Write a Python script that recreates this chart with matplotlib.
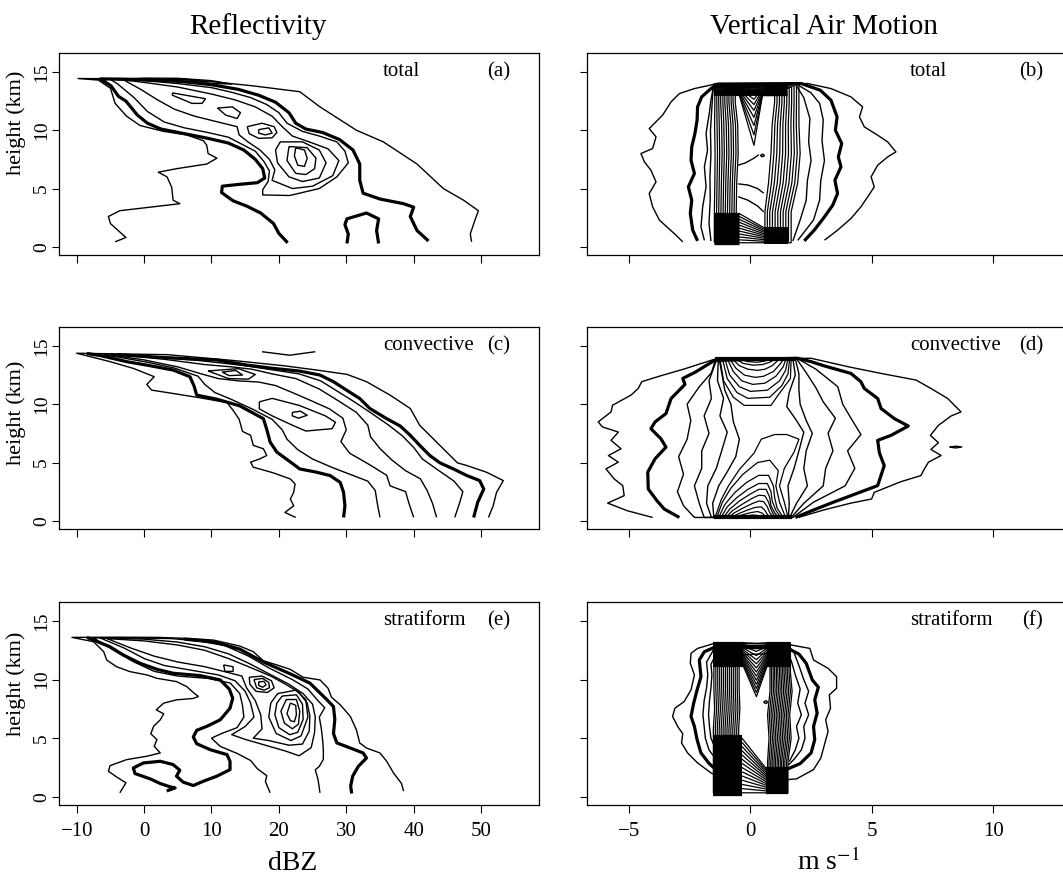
import numpy as np
import matplotlib.pyplot as plt

plt.rcParams['font.family'] = ['Liberation Serif', 'DejaVu Serif']
plt.rcParams['mathtext.fontset'] = 'stix'

# contour paths are (x, height km) pairs

# ---------- (a) reflectivity, total ----------
a_outer = [(-4.3, 0.43), (-2.7, 0.8), (-5.0, 2.0), (-5.3, 2.6), (-3.6, 3.1), (-0.6, 3.3), (5.3, 3.7),
           (4.3, 4.0), (4.1, 5.1), (3.4, 6.0), (2.1, 6.4), (4.8, 6.7), (9.3, 7.1), (10.8, 7.6), (9.5, 8.0),
           (9.3, 8.7), (8.8, 9.1), (6.3, 9.6), (2.9, 9.9), (-0.6, 10.4), (-2.6, 11.2), (-4.3, 12.3),
           (-5.0, 13.6), (-6.8, 14.3), (-9.8, 14.43), (0.1, 14.4), (6.3, 14.35), (10.3, 14.15),
           (16.2, 13.8), (23.1, 13.3), (26.1, 12.0), (31.5, 10.0), (35.5, 9.0), (40.5, 7.1), (44.4, 5.0),
           (47.4, 4.0), (49.6, 3.1), (49.1, 2.3), (48.4, 1.1), (48.6, 0.43)]
a_thick = [(21.3, 0.35), (20.0, 1.15), (19.2, 2.0), (17.3, 2.9), (15.2, 3.5), (13.2, 3.95), (11.5, 4.65),
           (11.6, 5.2), (14.0, 5.35), (16.8, 5.5), (17.9, 5.9), (17.6, 6.7), (16.5, 7.5), (14.8, 8.3),
           (12.5, 8.9), (9.5, 9.3), (6.0, 9.7), (2.5, 10.1), (0.5, 10.6), (-1.0, 11.3), (-2.7, 12.5),
           (-3.8, 12.9), (-4.9, 13.8), (-6.5, 14.4), (-3.0, 14.38), (2.0, 14.3), (6.0, 14.15),
           (10.0, 13.9), (14.0, 13.5), (17.0, 13.0), (19.5, 12.4), (21.5, 11.5), (22.5, 10.6), (24.0, 10.1),
           (26.5, 9.8), (29.0, 9.2), (31.0, 8.3), (32.0, 7.1), (32.0, 5.7), (32.5, 4.6), (35.0, 4.1),
           (38.5, 3.7), (40.0, 3.4), (39.5, 2.6), (40.5, 1.4), (42.2, 0.5)]
a_arch = [(30.1, 0.29), (30.3, 1.1), (29.8, 1.9), (30.1, 2.4), (33.0, 2.9), (34.8, 2.4), (34.5, 1.4),
          (34.8, 0.29)]
a_band1 = [(-5.0, 14.35), (-4.0, 14.0), (-1.5, 12.8), (0.5, 11.6), (3.0, 10.7), (6.0, 10.2), (9.5, 9.8),
           (12.5, 9.4), (14.5, 8.8), (16.5, 8.2), (17.8, 7.3), (18.6, 6.5), (18.4, 5.6), (17.6, 4.9),
           (17.6, 4.45), (21.6, 4.4), (26.0, 5.0), (28.6, 6.0), (30.3, 7.2), (29.8, 8.2), (28.6, 9.0),
           (26.0, 9.5), (23.5, 9.9), (21.2, 10.6), (20.0, 11.5), (18.2, 12.2), (15.8, 12.8), (13.0, 13.25),
           (10.0, 13.65), (5.0, 14.0), (0.0, 14.25), (-5.0, 14.35)]
a_band2 = [(-3.0, 14.3), (-0.5, 13.5), (2.0, 12.6), (4.5, 11.8), (7.5, 11.2), (11.0, 10.7), (13.8, 10.3),
           (14.1, 9.6), (15.4, 9.0), (17.2, 8.3), (18.6, 7.5), (19.4, 6.6), (19.0, 5.7), (22.0, 5.0),
           (25.0, 5.2), (28.0, 6.1), (28.9, 7.4), (27.3, 8.4), (24.5, 9.0), (22.0, 9.5), (20.5, 10.3),
           (19.0, 11.2), (16.5, 12.0), (13.5, 12.6), (10.0, 13.1), (5.0, 13.7), (0.0, 14.1), (-3.0, 14.3)]
a_ring3 = [(20.2, 9.0), (23.5, 9.0), (26.0, 8.3), (27.0, 7.2), (26.0, 5.9), (23.5, 5.6), (21.5, 6.0),
           (19.8, 7.2), (19.5, 8.3), (20.2, 9.0)]
a_ring2 = [(21.5, 8.6), (24.2, 8.5), (25.5, 7.6), (25.3, 6.7), (24.0, 6.2), (22.5, 6.3), (21.2, 7.4),
           (21.5, 8.6)]
a_ring1 = [(22.5, 8.5), (23.8, 8.3), (24.2, 7.6), (23.8, 6.9), (22.8, 7.0), (22.3, 7.8), (22.5, 8.5)]
a_peak2 = [(15.3, 10.3), (17.5, 10.6), (19.3, 10.3), (19.7, 9.8), (19.0, 9.35), (17.0, 9.3), (15.6, 9.7),
           (15.3, 10.3)]
a_peak1 = [(17.0, 10.05), (18.5, 10.2), (19.0, 9.75), (18.0, 9.6), (17.0, 9.75), (17.0, 10.05)]
a_small = [(10.9, 11.9), (13.1, 12.0), (14.3, 11.5), (13.8, 11.0), (12.1, 11.3), (10.9, 11.9)]
a_long = [(4.2, 13.2), (9.1, 12.7), (8.6, 12.3), (7.1, 12.3), (4.2, 13.0), (4.2, 13.2)]
a_top1 = [(-4.0, 14.35), (0.0, 14.47), (5.0, 14.45), (10.0, 14.25), (13.0, 13.95), (9.0, 14.05),
          (4.0, 14.2), (-1.0, 14.28), (-4.0, 14.35)]
a_top2 = [(2.0, 14.3), (6.0, 14.38), (9.5, 14.15), (6.0, 14.22), (2.0, 14.3)]

# ---------- (c) reflectivity, convective ----------
c_outer = [(22.5, 0.29), (20.9, 0.72), (22.2, 1.29), (21.7, 1.87), (22.2, 2.44), (22.4, 3.16), (21.7, 3.59),
           (19.2, 4.11), (16.2, 4.6), (15.8, 5.03), (17.2, 5.32), (18.2, 5.6), (17.7, 6.18), (16.2, 6.47),
           (15.8, 7.33), (14.6, 7.67), (14.1, 8.71), (13.2, 9.48), (12.3, 10.14), (8.3, 10.55), (4.3, 10.92),
           (1.1, 11.21), (0.4, 11.7), (1.5, 12.36), (-1.6, 13.07), (-5.05, 13.65), (-10.0, 14.37),
           (3.4, 14.25), (13.2, 13.75), (20.7, 13.3), (25.6, 12.93), (30.1, 12.56), (33.0, 11.93),
           (36.5, 10.78), (39.5, 9.63), (40.9, 8.19), (42.9, 7.04), (44.9, 5.89), (46.5, 4.97),
           (47.9, 4.74), (50.8, 4.17), (53.3, 3.45), (52.3, 2.44), (51.8, 1.29), (51.1, 0.29)]
c_thick_l = [(29.6, 0.29), (29.8, 1.29), (29.6, 2.44), (29.1, 3.3), (27.6, 3.88), (25.6, 4.17), (23.1, 4.45),
             (21.2, 5.26), (19.7, 5.89), (18.7, 6.75), (18.2, 7.84), (17.7, 8.76), (14.2, 9.86),
             (10.8, 10.43), (7.8, 10.78), (7.4, 11.58), (6.8, 12.36), (4.3, 12.93), (0.9, 13.3),
             (-2.6, 13.65), (-6.5, 14.17), (-8.5, 14.35)]
c_thick_r = [(-4.0, 14.25), (3.0, 14.0), (10.8, 13.79), (15.2, 13.36), (19.2, 13.07), (23.1, 12.84),
             (26.1, 12.5), (28.1, 11.93), (30.6, 11.0), (32.0, 10.49), (33.5, 9.63), (36.0, 8.76),
             (38.0, 8.13), (39.5, 7.33), (40.9, 6.47), (42.4, 5.6), (43.9, 4.97), (45.9, 4.45),
             (47.9, 3.88), (49.8, 3.45), (50.4, 2.73), (49.5, 1.58), (48.9, 0.29)]
c_line1 = [(35.0, 0.3), (34.6, 1.5), (34.3, 2.6), (33.2, 3.4), (30.5, 4.0), (27.8, 4.6), (25.0, 5.3),
           (22.8, 6.1), (21.2, 7.0), (20.5, 7.8), (19.0, 8.7), (16.0, 9.6), (13.0, 10.4), (10.5, 11.0),
           (9.0, 11.7), (8.0, 12.4), (4.5, 13.1), (0.5, 13.6), (-4.5, 14.1), (-8.0, 14.3)]
c_line2 = [(40.0, 0.3), (39.3, 1.5), (38.8, 2.5), (36.5, 3.0), (36.0, 3.9), (33.5, 4.8), (30.5, 5.8),
           (29.2, 6.8), (30.0, 7.8), (29.5, 8.8), (27.5, 9.6), (24.8, 10.3), (22.0, 11.0), (19.5, 11.6),
           (17.0, 11.9), (14.0, 12.0), (11.0, 12.2), (8.5, 12.6), (5.0, 13.2), (0.0, 13.8), (-6.0, 14.3)]
c_line3 = [(43.4, 0.3), (42.8, 1.5), (42.0, 2.6), (41.0, 3.6), (38.8, 4.3), (36.8, 5.2), (35.0, 6.2),
           (33.6, 7.2), (33.2, 8.2), (31.5, 9.3), (28.8, 10.3), (26.0, 11.3), (22.5, 12.2), (19.0, 12.6),
           (16.0, 13.0), (13.0, 13.2), (9.0, 13.4), (3.0, 13.85), (-5.0, 14.3)]
c_line4 = [(46.1, 0.3), (46.8, 1.5), (47.3, 2.5), (46.0, 3.4), (44.0, 4.2), (41.3, 5.3), (40.0, 6.3),
           (38.3, 7.3), (36.3, 8.2), (33.8, 9.2), (31.2, 10.2), (29.0, 11.0), (26.2, 12.0), (23.0, 12.6),
           (19.0, 12.95), (15.0, 13.3), (12.0, 13.5), (8.0, 13.75), (0.0, 14.1)]
c_ring_big = [(17.1, 10.2), (19.0, 10.5), (23.0, 9.9), (26.9, 9.0), (28.4, 8.45), (27.9, 7.9), (24.0, 7.7),
              (22.0, 8.2), (19.0, 9.0), (17.1, 9.6), (17.1, 10.2)]
c_ring_small = [(22.0, 9.3), (23.2, 9.4), (24.2, 9.05), (22.9, 8.8), (22.0, 9.0), (22.0, 9.3)]
c_top_big = [(9.5, 12.85), (14.0, 13.05), (16.5, 12.55), (15.5, 12.15), (12.5, 12.2), (9.5, 12.85)]
c_top_small = [(11.6, 12.75), (13.6, 12.9), (14.6, 12.5), (12.6, 12.45), (11.6, 12.75)]
c_arc = [(17.5, 14.5), (21.6, 14.2), (25.4, 14.5)]

# ---------- (e) reflectivity, stratiform ----------
e_outer = [(-3.6, 0.34), (-2.7, 1.19), (-4.1, 1.7), (-5.3, 2.18), (-5.05, 2.66), (-2.6, 3.17), (0.4, 3.46),
           (2.4, 3.74), (1.5, 4.31), (1.9, 4.87), (1.0, 5.38), (1.4, 6.01), (2.4, 6.57), (2.9, 7.08),
           (1.8, 7.42), (2.9, 7.99), (4.8, 8.27), (7.3, 8.39), (8.05, 8.56), (7.3, 8.9), (6.3, 9.41),
           (4.8, 9.83), (1.9, 10.11), (0.4, 10.4), (-2.1, 10.68), (-4.1, 11.1), (-5.55, 11.67),
           (-6.0, 12.38), (-7.5, 13.23), (-10.7, 13.6), (-4.0, 13.62), (2.0, 13.6), (6.8, 13.51),
           (10.3, 13.37), (14.2, 12.86), (16.2, 12.38), (17.7, 11.61), (19.7, 11.25), (21.65, 10.88),
           (23.6, 10.2), (26.1, 9.97), (27.3, 9.26), (27.8, 8.5), (29.1, 7.85), (30.6, 6.86), (31.5, 5.72),
           (32.0, 4.59), (33.0, 4.16), (35.0, 3.74), (36.0, 3.03), (37.0, 2.04), (38.2, 1.13), (38.5, 0.48)]
e_thick_l = [(-8.5, 13.6), (-5.05, 12.8), (-3.1, 12.1), (-0.6, 11.39), (1.9, 10.88), (4.3, 10.54),
             (8.3, 10.34), (11.3, 9.97), (12.65, 9.18), (13.15, 8.41), (12.75, 7.56), (11.3, 6.57),
             (9.3, 6.01), (7.8, 5.67), (7.3, 5.1), (7.8, 4.53), (9.8, 4.02), (12.3, 3.6), (12.75, 3.03),
             (12.75, 2.32), (10.8, 1.76), (8.8, 1.33), (7.3, 0.96), (5.8, 1.25), (4.8, 1.76), (5.3, 2.27),
             (4.3, 2.75), (2.4, 3.03), (-0.1, 2.89), (-1.6, 2.46), (-1.35, 1.98), (0.9, 1.53), (2.4, 1.13),
             (3.85, 0.85), (4.6, 0.76), (3.35, 0.5)]
e_thick_r = [(6.0, 13.45), (10.5, 13.2), (14.2, 12.6), (17.7, 11.5), (21.65, 10.5), (24.6, 9.7),
             (27.1, 8.3), (28.1, 7.7), (28.3, 6.6), (28.1, 5.4), (28.6, 4.6), (30.6, 4.16), (32.5, 3.74),
             (33.0, 3.31), (31.8, 2.61), (30.95, 1.76), (30.65, 0.91), (30.8, 0.28)]
e_big = [(18.7, 0.34), (18.0, 1.3), (18.2, 1.8), (16.8, 2.4), (15.8, 3.1), (13.8, 3.7), (11.3, 4.3),
         (10.0, 5.0), (11.5, 5.4), (13.8, 5.9), (14.8, 6.8), (14.6, 7.8), (14.2, 8.8), (12.8, 9.7),
         (9.5, 10.1), (5.0, 10.3), (1.5, 10.7), (-1.5, 11.5), (-4.5, 12.5), (-7.5, 13.55), (-2.0, 13.55),
         (4.0, 13.5), (8.0, 13.3), (12.0, 12.9), (15.5, 12.0), (18.5, 11.0), (22.0, 10.0), (24.3, 9.2),
         (25.8, 8.2), (26.8, 7.6), (26.0, 6.8), (26.3, 5.8), (26.5, 4.8), (26.6, 4.0), (26.6, 3.2),
         (26.0, 2.6), (25.4, 2.3), (25.8, 1.5), (26.1, 0.34)]
e_band2 = [(-6.5, 13.55), (-3.0, 12.7), (0.0, 11.8), (3.0, 11.2), (7.0, 10.8), (11.0, 10.4), (13.5, 9.9),
           (15.0, 9.0), (15.8, 8.0), (16.3, 6.8), (15.0, 6.0), (13.0, 5.3), (15.0, 4.9), (18.0, 4.4),
           (21.0, 3.9), (23.0, 3.5), (24.8, 4.2), (25.3, 5.5), (25.4, 6.8), (25.0, 7.9), (23.6, 8.8),
           (21.5, 9.6), (18.5, 10.5), (15.5, 11.4), (12.5, 12.2), (9.0, 12.8), (5.0, 13.2), (0.0, 13.45),
           (-6.5, 13.55)]
e_band3 = [(-5.5, 13.5), (-2.0, 12.7), (1.5, 12.0), (5.0, 11.5), (9.0, 11.1), (12.5, 10.6), (14.5, 10.3),
           (15.2, 9.3), (16.5, 8.2), (17.3, 7.0), (17.5, 5.8), (16.2, 5.0), (18.5, 4.8), (21.5, 4.4),
           (23.5, 4.5), (24.5, 5.6), (24.6, 6.9), (24.2, 8.0), (23.0, 8.9), (21.0, 9.6), (18.8, 10.3),
           (15.5, 11.1), (12.5, 11.8), (9.0, 12.5), (5.0, 12.95), (0.0, 13.3), (-5.5, 13.5)]
e_r4 = [(19.8, 8.8), (22.5, 9.1), (24.0, 8.3), (24.3, 6.8), (23.3, 5.2), (21.8, 4.8), (19.6, 5.4), (18.5, 6.8),
        (18.8, 8.0), (19.8, 8.8)]
e_r3 = [(20.5, 8.6), (22.6, 8.7), (23.5, 7.9), (23.6, 6.6), (22.8, 5.5), (21.6, 5.3), (20.0, 5.9), (19.4, 7.0),
        (19.7, 8.0), (20.5, 8.6)]
e_r2 = [(21.1, 8.3), (22.6, 8.3), (23.1, 7.3), (22.9, 6.2), (22.0, 5.8), (20.8, 6.3), (20.3, 7.3), (21.1, 8.3)]
e_r1 = [(21.7, 8.0), (22.5, 7.8), (22.6, 7.0), (22.3, 6.4), (21.7, 6.5), (21.2, 7.1), (21.7, 8.0)]
e_s3 = [(15.6, 10.2), (17.5, 10.3), (18.9, 9.9), (19.3, 9.3), (18.3, 8.9), (16.6, 9.0), (15.7, 9.6), (15.6, 10.2)]
e_s2 = [(16.3, 10.0), (17.6, 10.1), (18.5, 9.75), (18.6, 9.3), (17.8, 9.1), (16.7, 9.3), (16.3, 10.0)]
e_s1 = [(17.0, 9.8), (17.8, 9.85), (18.1, 9.55), (17.6, 9.35), (17.0, 9.5), (17.0, 9.8)]
e_small = [(11.8, 11.25), (13.2, 11.1), (13.2, 10.7), (12.0, 10.7), (11.8, 11.25)]

# ---------- (b) vertical air motion, total ----------
b_outer = [(-2.78, 0.43), (-3.13, 1.14), (-3.74, 2.29), (-4.02, 3.43), (-4.16, 4.57), (-3.88, 5.57),
           (-4.09, 6.57), (-4.36, 7.29), (-4.5, 8.0), (-4.02, 8.43), (-3.88, 9.43), (-4.16, 10.14),
           (-3.61, 11.29), (-3.26, 12.43), (-2.92, 13.14), (-2.3, 13.57), (-1.48, 13.94), (2.36, 14.0),
           (3.32, 13.57), (4.14, 12.86), (4.62, 12.0), (4.49, 11.14), (4.69, 10.29), (5.24, 9.57),
           (5.65, 9.0), (5.99, 8.14), (5.65, 7.71), (5.24, 7.0), (4.97, 6.0), (5.1, 5.14), (4.83, 4.29),
           (4.55, 3.43), (4.14, 2.43), (3.59, 1.43), (3.05, 0.57)]
b_thick = [(-2.17, 0.51), (-2.37, 1.43), (-2.47, 2.86), (-2.41, 4.0), (-2.55, 5.14), (-2.3, 6.29),
           (-2.44, 7.43), (-2.41, 8.57), (-2.28, 9.71), (-2.19, 10.86), (-2.17, 12.0), (-2.0, 12.86),
           (-1.62, 13.57), (-1.34, 13.96), (2.09, 14.0), (2.88, 13.43), (3.32, 12.57), (3.57, 11.14),
           (3.5, 10.0), (3.76, 8.86), (3.62, 7.71), (3.73, 6.86), (3.48, 5.71), (3.59, 4.57), (3.39, 3.57),
           (3.05, 2.57), (2.63, 1.43), (2.22, 0.51)]
b_thin1 = [(-1.89, 0.55), (-2.03, 1.71), (-1.96, 3.43), (-1.82, 5.14), (-1.89, 6.86), (-1.76, 8.29),
           (-1.82, 9.71), (-1.69, 11.43), (-1.62, 12.57), (-1.5, 13.95), (1.9, 13.95), (2.5, 13.2),
           (2.85, 12.3), (3.0, 10.9), (2.95, 9.1), (3.05, 7.4), (2.9, 5.7), (2.85, 4.0), (2.6, 2.3),
           (1.95, 0.55)]
b_thin2 = [(-1.62, 0.5), (-1.7, 2.0), (-1.65, 4.0), (-1.66, 6.0), (-1.62, 8.0), (-1.64, 10.0), (-1.58, 12.0),
           (-1.52, 13.9), (1.85, 13.95), (2.2, 12.8), (2.45, 11.0), (2.4, 9.0), (2.5, 7.4), (2.35, 5.7),
           (2.3, 4.0), (2.05, 2.3), (1.75, 0.5)]
b_heights = [3.0, 5.5, 8.0, 10.5, 12.4]
b_left = [[-1.48, -1.46, -1.45, -1.47, -1.46], [-1.39, -1.37, -1.35, -1.37, -1.38],
          [-1.30, -1.28, -1.26, -1.28, -1.30], [-1.21, -1.19, -1.16, -1.18, -1.22],
          [-1.12, -1.10, -1.07, -1.09, -1.13], [-1.03, -1.01, -0.97, -0.99, -1.05],
          [-0.94, -0.92, -0.88, -0.90, -0.96], [-0.85, -0.83, -0.78, -0.80, -0.88],
          [-0.76, -0.74, -0.69, -0.71, -0.79], [-0.67, -0.65, -0.59, -0.61, -0.71],
          [-0.58, -0.56, -0.50, -0.52, -0.62]]
b_right = [[1.68, 1.95, 2.05, 2.00, 2.00], [1.57, 1.83, 1.93, 1.89, 1.90], [1.46, 1.71, 1.81, 1.78, 1.80],
           [1.35, 1.59, 1.69, 1.67, 1.70], [1.24, 1.47, 1.57, 1.56, 1.60], [1.13, 1.35, 1.45, 1.45, 1.50],
           [1.02, 1.23, 1.33, 1.34, 1.40], [0.91, 1.11, 1.21, 1.23, 1.30], [0.80, 0.99, 1.09, 1.12, 1.20],
           [0.70, 0.87, 0.97, 1.01, 1.10], [0.60, 0.75, 0.85, 0.90, 1.00]]
b_top = [13.98, 13.88, 13.78, 13.68, 13.58, 13.48, 13.38, 13.28, 13.18, 13.08, 12.98]
b_vdip = [13.95, 13.7, 13.4, 13.05, 12.65, 12.2, 11.7, 11.1, 10.4, 9.6, 8.7]
b_bot_l = [0.35, 0.6, 0.85, 1.1, 1.35, 1.6, 1.85, 2.1, 2.35, 2.6, 2.85]
b_bot_r = [0.35, 0.48, 0.61, 0.74, 0.87, 1.0, 1.13, 1.26, 1.39, 1.52, 1.65]
b_mid = [[(-0.5, 7.0), (-0.2, 7.2), (0.15, 7.6), (0.35, 7.9)],
         [(-0.5, 5.4), (-0.1, 5.3), (0.3, 5.0), (0.55, 4.6)],
         [(-0.5, 4.3), (-0.1, 4.0), (0.3, 3.5), (0.55, 3.0)]]
b_dot = [(0.42, 7.85), (0.52, 7.95), (0.58, 7.8), (0.47, 7.72), (0.42, 7.85)]

# ---------- (d) vertical air motion, convective ----------
d_outer = [(-4.02, 0.29), (-5.05, 0.86), (-5.87, 1.52), (-5.19, 2.16), (-5.25, 3.02), (-5.6, 3.59),
           (-5.94, 4.45), (-5.43, 5.03), (-5.84, 5.6), (-5.32, 6.18), (-5.73, 6.9), (-5.43, 7.61),
           (-6.08, 8.05), (-6.26, 8.48), (-5.73, 9.34), (-5.67, 9.91), (-4.91, 10.78), (-4.61, 11.35),
           (-4.47, 11.93), (-3.68, 12.44), (-2.72, 13.02), (-1.48, 13.85), (2.5, 13.94), (4.01, 13.22),
           (5.38, 12.64), (6.82, 12.07), (7.43, 11.35), (8.12, 10.49), (8.67, 9.34), (8.26, 8.99),
           (7.74, 8.19), (7.41, 7.33), (7.74, 6.7), (7.43, 6.12), (7.85, 5.6), (7.33, 5.03), (7.16, 4.45),
           (7.02, 3.88), (6.2, 3.36), (5.79, 3.02), (5.1, 2.44), (4.99, 1.87), (4.14, 1.52), (3.05, 0.95),
           (1.98, 0.29)]
d_thick = [(-2.92, 0.29), (-3.54, 1.01), (-3.84, 1.72), (-4.2, 2.73), (-4.22, 4.17), (-3.92, 5.32),
           (-3.47, 6.32), (-3.68, 7.04), (-4.09, 7.9), (-3.92, 8.48), (-3.47, 9.2), (-3.26, 10.49),
           (-2.99, 11.06), (-2.69, 11.7), (-2.78, 12.21), (-2.28, 12.73), (-1.48, 13.75), (1.95, 13.94),
           (2.5, 13.65), (3.05, 13.28), (4.14, 12.64), (4.55, 11.93), (4.69, 11.35), (5.24, 10.49),
           (5.38, 9.63), (5.93, 8.76), (6.5, 8.13), (5.79, 7.33), (5.24, 6.9), (5.31, 5.83), (5.51, 4.74),
           (5.24, 3.02), (4.14, 2.16), (3.32, 1.52), (2.63, 0.95), (1.85, 0.29)]
d_span = [
    [(-2.3, 0.29), (-2.75, 1.3), (-3.0, 2.5), (-2.75, 4.0), (-2.95, 5.5), (-2.6, 7.0), (-2.45, 8.6), (-2.6, 10.0),
     (-2.1, 11.5), (-1.6, 12.7), (-1.42, 13.88), (1.95, 13.9), (2.7, 13.0), (3.6, 11.5), (3.8, 10.0),
     (4.2, 8.6), (4.55, 7.4), (4.0, 6.0), (4.3, 4.5), (3.9, 3.0), (2.6, 1.6), (1.75, 0.29)],
    [(-1.9, 0.29), (-2.1, 1.5), (-2.3, 3.0), (-2.0, 4.5), (-2.0, 6.0), (-1.7, 7.5), (-1.9, 9.0), (-1.6, 10.5),
     (-1.7, 12.0), (-1.38, 13.88), (1.9, 13.9), (2.3, 12.7), (2.7, 11.4), (3.0, 10.2), (3.5, 8.8), (3.2, 7.5),
     (3.4, 6.0), (3.1, 4.5), (3.0, 3.0), (2.2, 1.5), (1.68, 0.29)],
    [(-1.6, 0.29), (-1.8, 1.5), (-1.75, 3.0), (-1.4, 4.5), (-1.15, 6.2), (-0.95, 7.6), (-1.25, 9.0),
     (-1.1, 10.5), (-1.35, 12.0), (-1.32, 13.88), (1.85, 13.9), (2.0, 12.6), (2.0, 11.2), (2.05, 10.0),
     (2.3, 8.6), (2.55, 7.5), (2.3, 6.0), (2.2, 4.5), (2.35, 3.0), (1.9, 1.5), (1.62, 0.29)],
    [(-1.5, 0.29), (-1.55, 1.5), (-1.3, 3.0), (-0.95, 4.2), (-0.6, 5.5), (-0.45, 7.0), (-0.7, 8.5),
     (-0.8, 10.0), (-1.05, 11.2), (-1.28, 13.88), (1.75, 13.9), (1.85, 12.5), (1.6, 11.0), (1.5, 9.8),
     (1.9, 8.6), (2.2, 7.6), (2.0, 6.0), (1.8, 4.5), (1.55, 3.0), (1.6, 1.5), (1.57, 0.29)],
]
d_caps = [
    [(-1.25, 13.9), (-1.1, 12.0), (-0.7, 10.6), (-0.25, 9.9), (0.85, 9.9), (1.15, 10.8), (1.65, 12.2), (1.68, 13.9)],
    [(-1.15, 13.9), (-0.95, 12.2), (-0.55, 11.0), (-0.1, 10.5), (0.8, 10.6), (1.3, 11.6), (1.55, 12.6), (1.62, 13.9)],
    [(-1.05, 13.9), (-0.85, 12.5), (-0.45, 11.5), (0.0, 11.1), (0.7, 11.2), (1.2, 12.0), (1.45, 12.9), (1.55, 13.9)],
    [(-0.95, 13.9), (-0.7, 12.8), (-0.35, 12.0), (0.1, 11.7), (0.6, 11.8), (1.05, 12.4), (1.35, 13.2), (1.47, 13.9)],
    [(-0.85, 13.9), (-0.6, 13.1), (-0.25, 12.5), (0.2, 12.3), (0.55, 12.4), (0.95, 12.8), (1.25, 13.5), (1.38, 13.9)],
    [(-0.75, 13.9), (-0.45, 13.3), (-0.1, 13.0), (0.3, 12.9), (0.6, 13.0), (0.9, 13.3), (1.1, 13.7), (1.25, 13.9)],
    [(-0.6, 13.9), (-0.3, 13.5), (0.1, 13.35), (0.5, 13.4), (0.8, 13.6), (1.05, 13.9)],
    [(-0.45, 13.9), (-0.1, 13.65), (0.3, 13.6), (0.6, 13.7), (0.85, 13.9)],
]
d_mounds = [
    [(-1.45, 0.3), (-1.2, 1.8), (-0.9, 3.0), (-0.45, 4.4), (0.15, 5.8), (0.45, 7.0), (1.0, 7.4), (1.5, 7.4),
     (2.0, 7.0), (1.8, 5.9), (1.4, 4.5), (1.2, 3.0), (1.4, 1.6), (1.55, 0.3)],
    [(-1.38, 0.3), (-1.15, 1.6), (-0.8, 2.8), (-0.3, 4.0), (0.3, 5.0), (0.8, 5.2), (1.15, 4.3), (1.05, 3.0),
     (1.2, 1.6), (1.45, 0.3)],
    [(-1.3, 0.3), (-1.05, 1.4), (-0.65, 2.4), (-0.15, 3.3), (0.35, 3.9), (0.75, 3.9), (0.95, 3.0), (1.0, 2.0),
     (1.1, 1.1), (1.35, 0.3)],
    [(-1.2, 0.3), (-0.95, 1.2), (-0.55, 2.0), (-0.1, 2.7), (0.35, 3.2), (0.7, 3.2), (0.85, 2.5), (0.9, 1.7),
     (1.05, 0.9), (1.25, 0.3)],
    [(-1.1, 0.3), (-0.85, 1.0), (-0.45, 1.7), (0.0, 2.3), (0.35, 2.7), (0.65, 2.7), (0.8, 2.0), (0.85, 1.3),
     (1.0, 0.7), (1.15, 0.3)],
    [(-1.0, 0.3), (-0.75, 0.85), (-0.35, 1.4), (0.05, 1.9), (0.35, 2.2), (0.6, 2.15), (0.75, 1.6), (0.85, 1.0),
     (0.95, 0.55), (1.05, 0.3)],
    [(-0.9, 0.3), (-0.65, 0.7), (-0.25, 1.15), (0.1, 1.5), (0.35, 1.7), (0.55, 1.65), (0.7, 1.2), (0.8, 0.7),
     (0.95, 0.3)],
    [(-0.78, 0.3), (-0.5, 0.6), (-0.15, 0.9), (0.2, 1.15), (0.45, 1.2), (0.6, 0.9), (0.7, 0.55), (0.82, 0.3)],
    [(-0.62, 0.3), (-0.35, 0.5), (0.0, 0.7), (0.3, 0.8), (0.5, 0.65), (0.65, 0.3)],
    [(-0.45, 0.3), (-0.2, 0.42), (0.1, 0.5), (0.35, 0.45), (0.48, 0.3)],
]
d_top_run = [(-1.45, 13.9), (1.9, 13.9)]
d_bot_run = [(-1.5, 0.32), (1.7, 0.32)]
d_blob = [(8.2, 6.32), (8.45, 6.4), (8.7, 6.33), (8.45, 6.25), (8.2, 6.32)]

# ---------- (f) vertical air motion, stratiform ----------
f_outer = [(-1.34, 1.76), (-1.62, 2.04), (-2.17, 2.89), (-2.58, 3.74), (-2.83, 4.59), (-2.78, 5.38),
           (-2.99, 6.0), (-3.2, 6.86), (-3.1, 7.56), (-2.72, 8.13), (-2.44, 9.12), (-2.3, 10.4),
           (-2.47, 11.39), (-2.44, 12.24), (-2.17, 12.66), (-1.48, 13.09), (1.47, 13.03), (2.45, 12.66),
           (2.6, 11.67), (3.2, 10.96), (3.55, 10.25), (3.55, 9.26), (3.25, 8.7), (3.3, 7.56), (3.1, 6.57),
           (3.2, 5.58), (3.05, 4.45), (2.9, 3.31), (2.6, 2.32), (1.9, 1.53), (1.54, 1.47)]
f_thick = [(-1.45, 2.38), (-1.69, 2.83), (-2.03, 3.74), (-2.19, 4.87), (-2.3, 6.0), (-2.44, 6.86),
           (-2.33, 7.99), (-2.19, 9.12), (-2.03, 10.25), (-2.1, 11.67), (-1.89, 12.38), (-1.48, 12.75),
           (1.51, 12.7), (2.0, 12.18), (2.3, 11.39), (2.55, 9.97), (2.8, 9.35), (2.65, 8.27), (2.75, 7.14),
           (2.6, 6.0), (2.65, 4.87), (2.5, 3.74), (2.05, 2.83), (1.54, 2.38)]
f_thin1 = [(-1.45, 3.3), (-1.7, 4.0), (-1.85, 5.0), (-1.9, 6.0), (-1.95, 7.0), (-1.9, 8.2), (-1.8, 9.3),
           (-1.75, 10.4), (-1.8, 11.5), (-1.55, 12.4), (-1.45, 12.9), (1.55, 12.9), (1.8, 12.3), (2.0, 11.2),
           (2.2, 10.0), (2.4, 9.0), (2.25, 8.0), (2.4, 7.0), (2.2, 6.0), (2.25, 5.0), (2.1, 4.0), (1.8, 3.2),
           (1.56, 2.7)]
f_thin2 = [(-1.45, 4.2), (-1.62, 5.0), (-1.68, 6.0), (-1.72, 7.0), (-1.68, 8.2), (-1.62, 9.3), (-1.58, 10.4),
           (-1.62, 11.3), (-1.45, 12.0), (1.55, 12.3), (1.7, 11.5), (1.85, 10.4), (2.05, 9.2), (1.95, 8.0),
           (2.1, 7.0), (1.9, 6.0), (2.0, 5.0), (1.85, 4.0), (1.6, 3.0)]
f_heights_l = [5.8, 7.5, 9.3, 10.9]
f_heights_r = [3.0, 5.0, 7.0, 9.0, 10.6]
f_left = [[-1.52, -1.47, -1.50, -1.50], [-1.44, -1.39, -1.42, -1.42], [-1.36, -1.31, -1.34, -1.34],
          [-1.28, -1.23, -1.26, -1.26], [-1.20, -1.15, -1.18, -1.18], [-1.12, -1.07, -1.10, -1.10],
          [-1.04, -0.99, -1.02, -1.02], [-0.96, -0.91, -0.94, -0.94], [-0.88, -0.83, -0.86, -0.86],
          [-0.80, -0.75, -0.78, -0.78], [-0.72, -0.67, -0.70, -0.70], [-0.64, -0.59, -0.62, -0.62],
          [-0.56, -0.51, -0.54, -0.54], [-0.48, -0.43, -0.46, -0.46]]
f_right = [[1.55, 1.68, 1.62, 1.72, 1.65], [1.49, 1.61, 1.55, 1.65, 1.59], [1.42, 1.54, 1.48, 1.58, 1.52],
           [1.36, 1.47, 1.41, 1.51, 1.46], [1.29, 1.40, 1.34, 1.44, 1.39], [1.23, 1.33, 1.27, 1.37, 1.33],
           [1.16, 1.26, 1.20, 1.30, 1.26], [1.10, 1.19, 1.13, 1.23, 1.20], [1.03, 1.12, 1.06, 1.16, 1.13],
           [0.97, 1.05, 0.99, 1.09, 1.07], [0.90, 0.98, 0.92, 1.02, 1.00], [0.84, 0.91, 0.85, 0.95, 0.94],
           [0.77, 0.84, 0.78, 0.88, 0.87], [0.71, 0.77, 0.71, 0.81, 0.81]]
f_top = [13.15, 13.0, 12.85, 12.7, 12.55, 12.4, 12.25, 12.1, 11.95, 11.8, 11.65, 11.5, 11.35, 11.2]
f_vdip = [13.1, 12.75, 12.4, 12.05, 11.7, 11.35, 11.0, 10.65, 10.3, 9.95, 9.6, 9.25, 8.9, 8.55]
f_bot_l = [0.34, 0.70, 1.06, 1.42, 1.78, 2.14, 2.50, 2.86, 3.22, 3.58, 3.94, 4.30, 4.66, 5.02]
f_bot_r = [0.34, 0.5, 0.66, 0.82, 0.98, 1.14, 1.3, 1.46, 1.62, 1.78, 1.94, 2.1, 2.26, 2.42]
f_dot = [(0.55, 8.1), (0.65, 8.2), (0.72, 8.05), (0.62, 7.95), (0.55, 8.1)]

THIN, THICK, DENSE = 1.0, 2.3, 0.9


def trace(ax, pts, lw=THIN, close=False):
    p = np.asarray(pts, dtype=float)
    if close:
        p = np.vstack([p, p[:1]])
    ax.plot(p[:, 0], p[:, 1], color='black', lw=lw, solid_joinstyle='round', solid_capstyle='butt')


def dense_ring(ax, xl, xr, hl, hr, top, dip, bl, br, vx, kinks, blocks):
    # one closed level around the crowded core; where the levels pile up
    # (top and bottom of the data) their flat runs merge into solid bands
    tl_x, tr_x, bl_x, br_x = kinks
    pts = [(xl[0], bl)] + list(zip(xl, hl))
    pts += [(xl[-1], top), (tl_x, top), (vx, dip), (tr_x, top), (xr[-1], top)]
    pts += list(zip(xr, hr))[::-1]
    pts += [(xr[0], br), (br_x, br), (bl_x, bl), (xl[0], bl)]
    trace(ax, pts, DENSE)
    for (x0, x1, lw), h in zip(blocks, (top, top, bl, br)):
        trace(ax, [(x0, h), (x1, h)], lw)


fig = plt.figure(figsize=(10.63, 8.77), dpi=100)
W, H = 1063.0, 877.0
rows = [(53, 255), (327, 529), (602, 805)]
axes = []
for top_px, bot_px in rows:
    pair = []
    for left_px in (59, 587):
        ax = fig.add_axes([left_px / W, 1 - bot_px / H, 480 / W, (bot_px - top_px) / H])
        pair.append(ax)
    axes.append(pair)

for r, (axl, axr) in enumerate(axes):
    axl.set_xlim(-12.63, 58.6)
    axr.set_xlim(-6.72, 13.03)
    for ax in (axl, axr):
        ax.set_ylim(-0.7, 16.62)
        ax.set_yticks([0, 5, 10, 15])
        for s in ax.spines.values():
            s.set_linewidth(0.9)
        ax.tick_params(axis='x', direction='out', length=6, width=0.8, labelsize=15, pad=6)
        ax.tick_params(axis='y', direction='out', length=5, width=0.8, labelsize=14, pad=1.5)
    axl.set_xticks([-10, 0, 10, 20, 30, 40, 50])
    axr.set_xticks([-5, 0, 5, 10])
    axl.set_yticklabels(['0', '5', '10', '15'], rotation=90, va='center')
    axr.set_yticklabels([])
    if r < 2:
        axl.set_xticklabels([])
        axr.set_xticklabels([])

# (a)
ax = axes[0][0]
trace(ax, a_outer)
trace(ax, a_thick, THICK)
trace(ax, a_arch, THICK)
for p in (a_band1, a_band2, a_ring3, a_ring2, a_ring1, a_peak2, a_peak1, a_small, a_long, a_top1, a_top2):
    trace(ax, p)

# (c)
ax = axes[1][0]
trace(ax, c_outer)
trace(ax, c_thick_l, THICK)
trace(ax, c_thick_r, THICK)
for p in (c_line1, c_line2, c_line3, c_line4, c_ring_big, c_ring_small, c_top_big, c_top_small, c_arc):
    trace(ax, p)

# (e)
ax = axes[2][0]
trace(ax, e_outer)
trace(ax, e_thick_l, THICK)
trace(ax, e_thick_r, THICK)
for p in (e_big, e_band2, e_band3, e_r4, e_r3, e_r2, e_r1, e_s3, e_s2, e_s1, e_small):
    trace(ax, p)

# (b)
ax = axes[0][1]
trace(ax, b_outer)
trace(ax, b_thick, THICK)
trace(ax, b_thin1)
trace(ax, b_thin2)
b_blocks = [(-1.48, 0.45, 1.3), (0.5, 1.5, 1.0), (-1.48, -0.45, 2.4), (0.55, 1.55, 1.4)]
for k in range(len(b_left)):
    dense_ring(ax, b_left[k], b_right[k], b_heights, b_heights, b_top[k], b_vdip[k],
               b_bot_l[k], b_bot_r[k], 0.15, (-0.45, 0.5, -0.45, 0.55), b_blocks)
for p in b_mid:
    trace(ax, p)
trace(ax, b_dot)

# (d)
ax = axes[1][1]
trace(ax, d_outer)
trace(ax, d_thick, THICK)
for p in d_span:
    trace(ax, p, close=True)
for p in d_caps:
    trace(ax, p, DENSE, close=True)
for p in d_mounds:
    trace(ax, p, DENSE, close=True)
trace(ax, d_top_run, 3.0)
trace(ax, d_bot_run, 3.0)
trace(ax, d_blob)

# (f)
ax = axes[2][1]
trace(ax, f_outer)
trace(ax, f_thick, THICK)
trace(ax, f_thin1)
trace(ax, f_thin2)
f_blocks = [(-1.52, -0.3, 1.6), (0.7, 1.62, 1.6), (-1.52, -0.35, 4.5), (0.65, 1.57, 1.6)]
for k in range(len(f_left)):
    dense_ring(ax, f_left[k], f_right[k], f_heights_l, f_heights_r, f_top[k], f_vdip[k],
               f_bot_l[k], f_bot_r[k], 0.25, (-0.3, 0.7, -0.35, 0.65), f_blocks)
trace(ax, f_dot)

# panel labels
names = [('total', '(a)', 'total', '(b)'),
         ('convective', '(c)', 'convective', '(d)'),
         ('stratiform', '(e)', 'stratiform', '(f)')]
for r, (axl, axr) in enumerate(axes):
    nl, tl, nr, tr = names[r]
    axl.text(0.675, 15.0, nl, transform=axl.get_yaxis_transform(), ha='left', va='center', fontsize=15)
    axl.text(0.94, 15.0, tl, transform=axl.get_yaxis_transform(), ha='right', va='center', fontsize=15)
    axr.text(0.673, 15.0, nr, transform=axr.get_yaxis_transform(), ha='left', va='center', fontsize=15)
    axr.text(0.95, 15.0, tr, transform=axr.get_yaxis_transform(), ha='right', va='center', fontsize=15)

fig.text(258 / W, 1 - 27 / H, 'Reflectivity', ha='center', va='center', fontsize=21)
fig.text(824 / W, 1 - 27 / H, 'Vertical Air Motion', ha='center', va='center', fontsize=21)
for yc in (123, 413, 684):
    fig.text(16 / W, 1 - yc / H, 'height (km)', rotation=90, ha='center', va='center', fontsize=16)
fig.text(293 / W, 1 - 863 / H, 'dBZ', ha='center', va='center', fontsize=20)
fig.text(828 / W, 1 - 862 / H, r'm s$^{-1}$', ha='center', va='center', fontsize=20)

fig.savefig('out.png', dpi=100)
